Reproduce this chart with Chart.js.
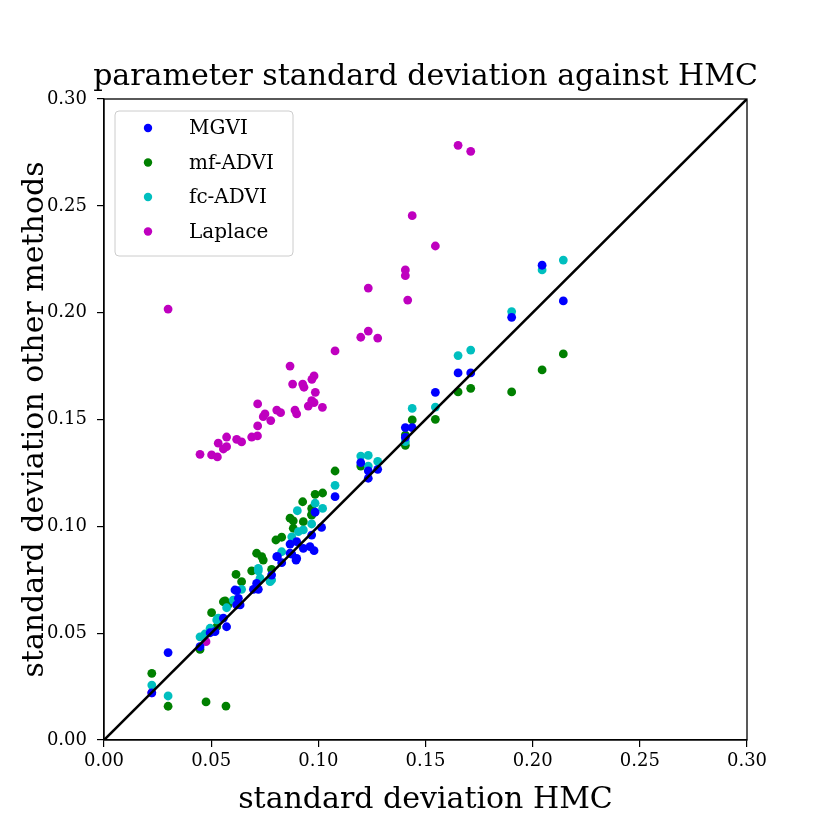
<!DOCTYPE html>
<html>
<head>
<meta charset="utf-8">
<script src="https://cdn.jsdelivr.net/npm/chart.js@4"></script>
<style>
html,body{margin:0;padding:0;background:#fff;}
#wrap{width:830px;height:830px;position:relative;}
</style>
</head>
<body>
<div id="wrap"><canvas id="c" width="830" height="830"></canvas></div>
<script>
// ---- data ----
const chartTitle = "parameter standard deviation against HMC";
const seriesLabels = ["MGVI", "mf-ADVI", "fc-ADVI", "Laplace"];
const xTicks = [0.00, 0.05, 0.10, 0.15, 0.20, 0.25, 0.30];

const mgviX = [0.0223,0.0299,0.0448,0.0495,0.0518,0.0572,0.0557,0.0635,0.0627,0.0619,0.0697,0.0720,0.0712,0.0782,0.0809,0.0829,0.0806,0.0868,0.0899,0.0876,0.0899,0.0930,0.0961,0.0980,0.0969,0.1015,0.0985,0.1078,0.1198,0.1233,0.1233,0.1277,0.1406,0.1406,0.1438,0.1546,0.1652,0.1711,0.1902,0.2044,0.2143,0.0868,0.0896,0.0619,0.0611];
const mgviY = [0.0221,0.0409,0.0437,0.0502,0.0507,0.0530,0.0570,0.0632,0.0663,0.0699,0.0705,0.0705,0.0733,0.0772,0.0858,0.0830,0.0858,0.0917,0.0928,0.0870,0.0850,0.0897,0.0905,0.0886,0.0959,0.0995,0.1066,0.1139,0.1298,0.1260,0.1225,0.1267,0.1416,0.1462,0.1462,0.1627,0.1718,0.1718,0.1978,0.2222,0.2055,0.0874,0.0842,0.0632,0.0702];

const mfX = [0.0223,0.0299,0.0476,0.0569,0.0448,0.0502,0.0526,0.0565,0.0580,0.0616,0.0642,0.0689,0.0712,0.0736,0.0743,0.0782,0.0802,0.0829,0.0868,0.0883,0.0883,0.0930,0.0927,0.0969,0.0969,0.0985,0.1020,0.1078,0.1198,0.1406,0.1406,0.1438,0.1546,0.1652,0.1711,0.1902,0.2044,0.2143,0.0557,0.0969];
const mfY = [0.0312,0.0158,0.0178,0.0159,0.0424,0.0596,0.0530,0.0651,0.0635,0.0775,0.0741,0.0792,0.0874,0.0858,0.0842,0.0799,0.0936,0.0949,0.1038,0.1026,0.0991,0.1022,0.1115,0.1084,0.1052,0.1150,0.1156,0.1259,0.1282,0.1427,0.1379,0.1498,0.1501,0.1629,0.1646,0.1629,0.1732,0.1807,0.0647,0.1056];

const fcX = [0.0223,0.0299,0.0448,0.0471,0.0526,0.0572,0.0603,0.0642,0.0728,0.0720,0.0775,0.0829,0.0876,0.0930,0.0969,0.0902,0.0985,0.1020,0.1078,0.1198,0.1233,0.1233,0.1277,0.1406,0.1438,0.1546,0.1652,0.1711,0.1902,0.2044,0.2143,0.0720,0.0782,0.0907,0.0495,0.0533];
const fcY = [0.0257,0.0206,0.0483,0.0496,0.0562,0.0619,0.0655,0.0705,0.0757,0.0792,0.0741,0.0881,0.0951,0.0983,0.1011,0.1073,0.1108,0.1084,0.1192,0.1329,0.1332,0.1282,0.1304,0.1396,0.1552,0.1558,0.1799,0.1825,0.2005,0.2200,0.2246,0.0803,0.0749,0.0975,0.0523,0.0570];

const laplaceX = [0.0223,0.0299,0.0476,0.0448,0.0502,0.0529,0.0533,0.0557,0.0572,0.0572,0.0619,0.0642,0.0689,0.0716,0.0717,0.0717,0.0743,0.0751,0.0778,0.0806,0.0824,0.0891,0.0899,0.0868,0.0880,0.0927,0.0933,0.0970,0.0980,0.0986,0.0969,0.0980,0.0953,0.1019,0.1078,0.1198,0.1233,0.1277,0.1233,0.1417,0.1406,0.1406,0.1438,0.1546,0.1652,0.1711];
const laplaceY = [0.0221,0.2017,0.0460,0.1337,0.1334,0.1325,0.1389,0.1362,0.1418,0.1373,0.1407,0.1395,0.1418,0.1423,0.1470,0.1573,0.1513,0.1526,0.1495,0.1544,0.1532,0.1544,0.1526,0.1750,0.1666,0.1666,0.1651,0.1688,0.1704,0.1627,0.1588,0.1579,0.1563,0.1557,0.1821,0.1885,0.1914,0.1881,0.2115,0.2059,0.2200,0.2173,0.2454,0.2312,0.2783,0.2755];

const diagX = [0, 0.3];
const diagY = [0, 0.3];

const colors = ["#0000ff", "#008000", "#00bfbf", "#bf00bf"];
const SERIF = "'DejaVu Serif', 'Liberation Serif', serif";

function pts(xs, ys){ return xs.map((x,i)=>({x:x, y:ys[i]})); }

const seriesX = [mgviX, mfX, fcX, laplaceX];
const seriesY = [mgviY, mfY, fcY, laplaceY];
const drawOrder = [1, 3, 2, 4];

const datasets = seriesLabels.map((lab,i)=>({
  type:'scatter',
  label: lab,
  data: pts(seriesX[i], seriesY[i]),
  backgroundColor: colors[i],
  borderColor: colors[i],
  borderWidth: 0,
  pointRadius: 4.4,
  pointHoverRadius: 4.4,
  order: drawOrder[i]
}));
datasets.push({
  type:'line',
  label:'diag',
  data: pts(diagX, diagY),
  borderColor:'#000',
  borderWidth:2.6,
  pointRadius:0,
  fill:false,
  order:0
});

const framePlugin = {
  id:'frame',
  afterDatasetsDraw(chart){
    const {ctx, chartArea:a} = chart;
    ctx.save();
    ctx.strokeStyle = '#000';
    ctx.lineWidth = 1.3;
    ctx.strokeRect(a.left, a.top, a.right-a.left, a.bottom-a.top);
    ctx.restore();
  },
  afterDraw(chart){
    const {ctx, chartArea:a} = chart;
    ctx.save();
    // title centred over the axes
    ctx.font = "30px " + SERIF;
    ctx.fillStyle = '#000';
    ctx.textAlign = 'center';
    ctx.textBaseline = 'alphabetic';
    ctx.fillText(chartTitle, (a.left + a.right)/2, 85);

    // legend box inside the plot, upper left
    const bx = a.left + 11, by = a.top + 12, bw = 178, bh = 145;
    ctx.beginPath();
    const r = 4;
    ctx.moveTo(bx+r, by);
    ctx.lineTo(bx+bw-r, by); ctx.arcTo(bx+bw, by, bx+bw, by+r, r);
    ctx.lineTo(bx+bw, by+bh-r); ctx.arcTo(bx+bw, by+bh, bx+bw-r, by+bh, r);
    ctx.lineTo(bx+r, by+bh); ctx.arcTo(bx, by+bh, bx, by+bh-r, r);
    ctx.lineTo(bx, by+r); ctx.arcTo(bx, by, bx+r, by, r);
    ctx.closePath();
    ctx.fillStyle = 'rgba(255,255,255,0.8)';
    ctx.fill();
    ctx.strokeStyle = '#cccccc';
    ctx.lineWidth = 1;
    ctx.stroke();
    ctx.font = "20px " + SERIF;
    ctx.textBaseline = 'middle';
    ctx.textAlign = 'left';
    seriesLabels.forEach((lab,i)=>{
      const cy = by + 17 + i*34.5;
      ctx.beginPath();
      ctx.arc(bx + 33, cy, 4.2, 0, Math.PI*2);
      ctx.fillStyle = colors[i];
      ctx.fill();
      ctx.fillStyle = '#000';
      ctx.fillText(lab, bx + 74, cy + 1);
    });
    ctx.restore();
  }
};

new Chart(document.getElementById('c'), {
  data: { datasets },
  options: {
    responsive:false,
    animation:false,
    devicePixelRatio:1,
    layout:{ padding:{ left:0, right:83, top:99, bottom:0 } },
    plugins:{
      legend:{ display:false },
      tooltip:{ enabled:false },
      title:{ display:false }
    },
    scales:{
      x:{
        type:'linear', min:0, max:0.3,
        afterBuildTicks(s){ s.ticks = xTicks.map(v=>({value:v})); },
        afterFit(s){ s.height = 90; },
        ticks:{ color:'#000', font:{family:SERIF, size:18}, padding:4, maxRotation:0,
                callback:(v)=>Number(v).toFixed(2) },
        grid:{ drawOnChartArea:false, drawTicks:true, tickLength:7, color:'#000', lineWidth:1.2 },
        border:{ display:true, color:'#000', width:1.3 },
        title:{ display:true, text:'standard deviation HMC', color:'#000',
                font:{family:SERIF, size:30, lineHeight:1.2}, padding:{top:0,bottom:12} }
      },
      y:{
        type:'linear', min:0, max:0.3,
        afterBuildTicks(s){ s.ticks = xTicks.map(v=>({value:v})); },
        afterFit(s){ s.width = 104; },
        ticks:{ color:'#000', font:{family:SERIF, size:18}, padding:10,
                callback:(v)=>Number(v).toFixed(2) },
        grid:{ drawOnChartArea:false, drawTicks:true, tickLength:7, color:'#000', lineWidth:1.2 },
        border:{ display:true, color:'#000', width:1.3 },
        title:{ display:true, text:'standard deviation other methods', color:'#000',
                font:{family:SERIF, size:30, lineHeight:1.2}, padding:{top:17,bottom:0} }
      }
    }
  },
  plugins:[framePlugin]
});
</script>
</body>
</html>
